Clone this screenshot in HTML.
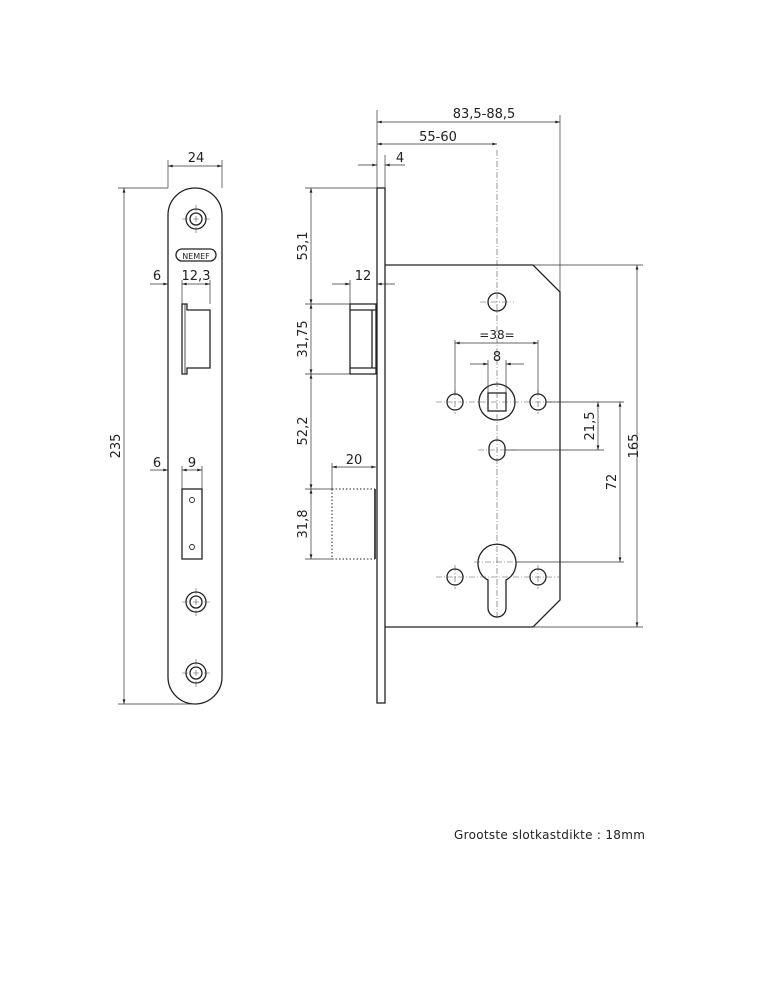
<!DOCTYPE html>
<html><head><meta charset="utf-8"><style>
html,body{margin:0;padding:0;background:#fff}
svg{display:block}
text{font-family:"DejaVu Sans","Liberation Sans",sans-serif;fill:#222}
</style></head><body>
<svg width="773" height="1000" viewBox="0 0 773 1000" xmlns="http://www.w3.org/2000/svg">
<defs>
<marker id="a" viewBox="0 0 10 6" refX="10" refY="3" markerWidth="8" markerHeight="4" orient="auto-start-reverse"><path d="M0,0 L10,3 L0,6z" fill="#222"/></marker>
</defs>
<g fill="none" stroke="#222" stroke-width="1.3">
<!-- front faceplate -->
<path d="M168,215 A27,27 0 0 1 222,215 L222,677 A27,27 0 0 1 168,677 Z"/>
<circle cx="196" cy="219" r="10"/><circle cx="196" cy="219" r="6"/>
<circle cx="196" cy="602" r="10"/><circle cx="196" cy="602" r="6"/>
<circle cx="196" cy="673" r="10"/><circle cx="196" cy="673" r="6"/>
<rect x="176" y="249" width="40" height="12" rx="6"/>
<path d="M182,304 H187 V310 H210 V368 H187 V374 H182 Z"/>
<line x1="185" y1="304" x2="185" y2="374" stroke-width="0.8"/>
<rect x="182" y="489" width="20" height="70"/>
<circle cx="192" cy="500" r="2.5" stroke-width="0.9"/><circle cx="192" cy="547" r="2.5" stroke-width="0.9"/>
<!-- side faceplate -->
<rect x="377" y="188" width="8" height="515"/>
<path d="M350,304 H376 V374 H350 Z M350,310 H376 M350,368 H376 M372,310 V368"/>
<line x1="375" y1="489" x2="375" y2="559" stroke-width="1.6"/>
<path d="M332,489 H375 M332,559 H375 M332,489 V559" stroke-dasharray="1.5,2" stroke-width="1"/>
<!-- body -->
<path d="M385,265 H533 L560,292 V600 L533,627 H385"/>
<circle cx="497" cy="302" r="9"/>
<circle cx="497" cy="402" r="18"/>
<rect x="488" y="393" width="18" height="18"/>
<circle cx="455" cy="402" r="8"/><circle cx="538" cy="402" r="8"/>
<rect x="489" y="440" width="16" height="20" rx="8"/>
<path d="M488,580 A19,19 0 1 1 506,580 V608 A9,9 0 0 1 488,608 Z"/>
<circle cx="455" cy="577" r="8"/><circle cx="538" cy="577" r="8"/>
</g>
<!-- center lines -->
<g stroke="#555" stroke-width="0.6" fill="none" stroke-dasharray="6,2,1,2">
<line x1="497" y1="150" x2="497" y2="620"/>
<line x1="436" y1="402" x2="560" y2="402"/>
<line x1="436" y1="577" x2="560" y2="577"/>
<line x1="480" y1="302" x2="514" y2="302"/>
<line x1="455" y1="390" x2="455" y2="414"/><line x1="538" y1="390" x2="538" y2="414"/>
<line x1="455" y1="565" x2="455" y2="589"/><line x1="538" y1="565" x2="538" y2="589"/>
<line x1="478" y1="450" x2="516" y2="450"/>
<line x1="474" y1="562" x2="520" y2="562"/>
<line x1="182" y1="219" x2="210" y2="219"/><line x1="196" y1="205" x2="196" y2="233"/>
<line x1="182" y1="602" x2="210" y2="602"/><line x1="196" y1="588" x2="196" y2="616"/>
<line x1="182" y1="673" x2="210" y2="673"/><line x1="196" y1="659" x2="196" y2="687"/>
</g>
<!-- dimension lines -->
<g stroke="#333" stroke-width="0.7" fill="none">
<line x1="168" y1="160" x2="168" y2="188"/><line x1="222" y1="160" x2="222" y2="188"/>
<line x1="168" y1="166" x2="222" y2="166" marker-start="url(#a)" marker-end="url(#a)"/>
<line x1="118" y1="188" x2="168" y2="188"/><line x1="118" y1="704" x2="196" y2="704"/>
<line x1="124" y1="188" x2="124" y2="704" marker-start="url(#a)" marker-end="url(#a)"/>
<line x1="150" y1="284" x2="168" y2="284" marker-end="url(#a)"/>
<line x1="182" y1="280" x2="182" y2="304"/><line x1="210" y1="280" x2="210" y2="304"/>
<line x1="182" y1="284" x2="210" y2="284" marker-start="url(#a)" marker-end="url(#a)"/>
<line x1="150" y1="470" x2="168" y2="470" marker-end="url(#a)"/>
<line x1="182" y1="466" x2="182" y2="489"/><line x1="202" y1="466" x2="202" y2="489"/>
<line x1="182" y1="470" x2="202" y2="470" marker-start="url(#a)" marker-end="url(#a)"/>
<!-- side dims -->
<line x1="305" y1="188" x2="377" y2="188"/>
<line x1="305" y1="304" x2="350" y2="304"/><line x1="305" y1="374" x2="350" y2="374"/>
<line x1="305" y1="489" x2="332" y2="489"/><line x1="305" y1="559" x2="332" y2="559"/>
<line x1="311" y1="188" x2="311" y2="304" marker-start="url(#a)" marker-end="url(#a)"/>
<line x1="311" y1="304" x2="311" y2="374" marker-start="url(#a)" marker-end="url(#a)"/>
<line x1="311" y1="374" x2="311" y2="489" marker-start="url(#a)" marker-end="url(#a)"/>
<line x1="311" y1="489" x2="311" y2="559" marker-start="url(#a)" marker-end="url(#a)"/>
<line x1="350" y1="280" x2="350" y2="304"/>
<line x1="332" y1="284" x2="350" y2="284" marker-end="url(#a)"/>
<line x1="377" y1="284" x2="395" y2="284" marker-start="url(#a)"/>
<line x1="332" y1="463" x2="332" y2="489"/>
<line x1="332" y1="467" x2="376" y2="467" marker-start="url(#a)" marker-end="url(#a)"/>
<line x1="377" y1="110" x2="377" y2="188"/><line x1="385" y1="155" x2="385" y2="188"/>
<line x1="560" y1="115" x2="560" y2="292"/>
<line x1="377" y1="122" x2="560" y2="122" marker-start="url(#a)" marker-end="url(#a)"/>
<line x1="377" y1="144" x2="497" y2="144" marker-start="url(#a)" marker-end="url(#a)"/>
<line x1="358" y1="165" x2="377" y2="165" marker-end="url(#a)"/>
<line x1="385" y1="165" x2="405" y2="165" marker-start="url(#a)"/>
<line x1="455" y1="340" x2="455" y2="394"/><line x1="538" y1="340" x2="538" y2="394"/>
<line x1="455" y1="343" x2="538" y2="343" marker-start="url(#a)" marker-end="url(#a)"/>
<line x1="488" y1="360" x2="488" y2="393"/><line x1="506" y1="360" x2="506" y2="393"/>
<line x1="470" y1="364" x2="488" y2="364" marker-end="url(#a)"/>
<line x1="506" y1="364" x2="524" y2="364" marker-start="url(#a)"/>
<line x1="546" y1="402" x2="624" y2="402"/>
<line x1="505" y1="450" x2="604" y2="450"/>
<line x1="516" y1="562" x2="624" y2="562"/>
<line x1="533" y1="265" x2="643" y2="265"/><line x1="533" y1="627" x2="643" y2="627"/>
<line x1="598" y1="402" x2="598" y2="450" marker-start="url(#a)" marker-end="url(#a)"/>
<line x1="620" y1="402" x2="620" y2="562" marker-start="url(#a)" marker-end="url(#a)"/>
<line x1="637" y1="265" x2="637" y2="627" marker-start="url(#a)" marker-end="url(#a)"/>
</g>
<g font-size="13">
<text x="196" y="162" text-anchor="middle">24</text>
<text x="157" y="280" text-anchor="middle">6</text>
<text x="196" y="280" text-anchor="middle">12,3</text>
<text x="157" y="467" text-anchor="middle">6</text>
<text x="192" y="467" text-anchor="middle">9</text>
<text x="363" y="280" text-anchor="middle">12</text>
<text x="354" y="464" text-anchor="middle">20</text>
<text x="400" y="162" text-anchor="middle">4</text>
<text x="438" y="141" text-anchor="middle">55-60</text>
<text x="484" y="118" text-anchor="middle">83,5-88,5</text>
<text x="497" y="339" text-anchor="middle" font-size="12">=38=</text>
<text x="497" y="361" text-anchor="middle">8</text>
<text transform="translate(120,446) rotate(-90)" text-anchor="middle">235</text>
<text transform="translate(307,246) rotate(-90)" text-anchor="middle">53,1</text>
<text transform="translate(307,339) rotate(-90)" text-anchor="middle">31,75</text>
<text transform="translate(307,431) rotate(-90)" text-anchor="middle">52,2</text>
<text transform="translate(307,524) rotate(-90)" text-anchor="middle">31,8</text>
<text transform="translate(594,426) rotate(-90)" text-anchor="middle">21,5</text>
<text transform="translate(616,482) rotate(-90)" text-anchor="middle">72</text>
<text transform="translate(638,446) rotate(-90)" text-anchor="middle">165</text>
</g>
<text x="196" y="259" text-anchor="middle" font-size="8">NEMEF</text>
<text x="454" y="839" font-size="12" letter-spacing="0.3">Grootste slotkastdikte : 18mm</text>
</svg>
</body></html>
